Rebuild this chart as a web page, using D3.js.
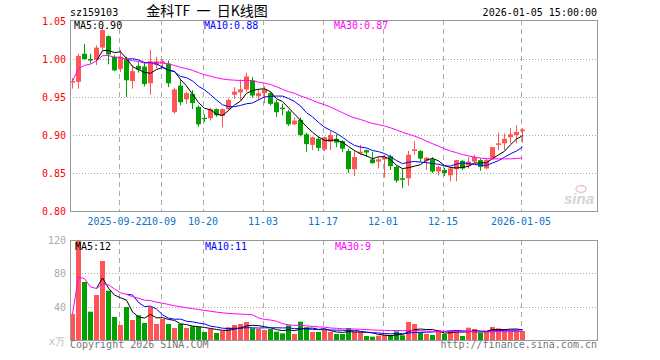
<!DOCTYPE html>
<html>
<head>
<meta charset="utf-8">
<script src="https://cdn.jsdelivr.net/npm/d3@7"></script>
<style>
  body { margin: 0; background: #fff; }
  text { font-family: "DejaVu Sans Mono", monospace; font-size: 10px; }
</style>
</head>
<body>
<svg id="chart" width="660" height="360"></svg>
<script>
// trading days shown on the chart
const dates = [
  "2025-09-10","2025-09-11","2025-09-12","2025-09-15","2025-09-16","2025-09-17","2025-09-18","2025-09-19",
  "2025-09-22","2025-09-23","2025-09-24","2025-09-25","2025-09-26","2025-09-29","2025-09-30",
  "2025-10-09","2025-10-10","2025-10-13","2025-10-14","2025-10-15","2025-10-16","2025-10-17",
  "2025-10-20","2025-10-21","2025-10-22","2025-10-23","2025-10-24","2025-10-27","2025-10-28","2025-10-29","2025-10-30","2025-10-31",
  "2025-11-03","2025-11-04","2025-11-05","2025-11-06","2025-11-07","2025-11-10","2025-11-11","2025-11-12","2025-11-13","2025-11-14",
  "2025-11-17","2025-11-18","2025-11-19","2025-11-20","2025-11-21","2025-11-24","2025-11-25","2025-11-26","2025-11-27","2025-11-28",
  "2025-12-01","2025-12-02","2025-12-03","2025-12-04","2025-12-05","2025-12-08","2025-12-09","2025-12-10","2025-12-11","2025-12-12",
  "2025-12-15","2025-12-16","2025-12-17","2025-12-18","2025-12-19","2025-12-22","2025-12-23","2025-12-24","2025-12-25","2025-12-26",
  "2025-12-29","2025-12-30","2025-12-31","2026-01-05"
];
const opens = [
  0.969,0.970,1.007,1.000,0.999,1.015,1.030,1.003,0.987,1.001,
  0.971,0.991,0.990,0.968,0.992,0.994,0.994,0.930,0.965,0.947,
  0.954,0.937,0.9225,0.922,0.934,0.925,0.934,0.953,0.956,0.960,
  0.972,0.951,0.955,0.955,0.943,0.936,0.931,0.914,0.920,0.901,
  0.887,0.895,0.881,0.891,0.895,0.892,0.879,0.855,0.876,0.880,
  0.868,0.865,0.868,0.872,0.858,0.843,0.843,0.879,0.879,0.866,
  0.868,0.852,0.854,0.847,0.855,0.866,0.860,0.865,0.867,0.856,
  0.869,0.887,0.889,0.897,0.900,0.905
];
const highs = [
  0.975,1.007,1.020,1.007,1.018,1.045,1.031,1.005,1.012,1.003,
  0.992,0.996,0.996,1.012,1.003,1.000,0.998,0.962,0.974,0.957,
  0.959,0.939,0.927,0.936,0.935,0.935,0.948,0.963,0.973,0.982,
  0.976,0.960,0.964,0.957,0.946,0.941,0.933,0.923,0.923,0.903,
  0.898,0.898,0.898,0.905,0.901,0.893,0.882,0.880,0.887,0.881,
  0.878,0.871,0.874,0.874,0.860,0.856,0.879,0.892,0.880,0.871,
  0.871,0.860,0.857,0.858,0.867,0.867,0.871,0.874,0.869,0.869,
  0.884,0.903,0.902,0.909,0.913,0.909
];
const lows = [
  0.961,0.961,0.999,0.994,0.992,1.012,0.993,0.984,0.983,0.950,
  0.961,0.982,0.964,0.953,0.988,0.988,0.963,0.928,0.939,0.941,
  0.934,0.911,0.917,0.919,0.924,0.910,0.933,0.947,0.946,0.957,
  0.949,0.946,0.942,0.939,0.924,0.926,0.912,0.913,0.898,0.878,
  0.880,0.879,0.879,0.880,0.884,0.878,0.850,0.846,0.874,0.871,
  0.862,0.856,0.844,0.854,0.837,0.830,0.833,0.874,0.865,0.854,
  0.850,0.847,0.846,0.839,0.839,0.854,0.856,0.863,0.853,0.855,
  0.868,0.880,0.880,0.889,0.889,0.890
];
const closes = [
  0.971,1.004,1.000,0.998,1.015,1.038,1.006,0.985,1.003,0.972,
  0.984,0.986,0.967,0.997,0.997,0.997,0.968,0.960,0.943,0.955,
  0.942,0.914,0.921,0.934,0.926,0.934,0.946,0.957,0.960,0.977,
  0.952,0.955,0.960,0.941,0.930,0.934,0.914,0.919,0.900,0.888,
  0.897,0.883,0.897,0.900,0.890,0.882,0.855,0.871,0.878,0.877,
  0.863,0.868,0.871,0.859,0.840,0.841,0.874,0.881,0.869,0.870,
  0.852,0.858,0.850,0.856,0.867,0.856,0.865,0.871,0.858,0.867,
  0.884,0.889,0.895,0.901,0.904,0.907
];
// volume, 万
const volumes = [
  31.2,120,69.6,34,54,94.8,59.2,27.6,18,39.6,
  24,29.6,20.4,39.6,19.2,25.2,19.2,14.4,19.2,14.4,
  16.4,15.6,9.6,13.2,8.4,11.2,15.2,18,19.2,21.6,
  14,13.2,12,13.2,10,8,17.6,7.2,22,15.2,
  9.6,9.6,12,9.6,7.2,7.2,14.4,10,9.6,4.8,
  4,5.2,6,5.6,10.4,5.6,21.6,19.2,9.2,7.2,
  6,12,7.2,11.2,12,4.8,14.8,13.2,8.8,10.8,
  15.6,14,13.2,11.6,11.6,10.8
];

const tickDates = ["2025-09-22","2025-10-09","2025-10-20","2025-11-03","2025-11-17","2025-12-01","2025-12-15","2026-01-05"];
const tickLabels = ["2025-09-22","10-09","10-20","11-03","11-17","12-01","12-15","2026-01-05"];
const priceTicks = [0.80, 0.85, 0.90, 0.95, 1.00, 1.05];
const volTicks = [40, 80, 120];
const priceLegend = ["MA5:0.90", "MA10:0.88", "MA30:0.87"];
const volLegend = ["MA5:12", "MA10:11", "MA30:9"];

const RED = "#ff5555", GREEN = "#00a000";
const maColors = ["#000000", "#0000ff", "#ff00ff"];

var svg = d3.select("#chart");
svg.append("rect").attr("width", 660).attr("height", 360).attr("fill", "#fff");

let left = 70, right = 597;
let pTop = 20, pBottom = 211;
let vTop = 240, vBottom = 340;

const x = d3.scaleLinear().domain([0, dates.length - 1]).range([72, 522]);
const yP = d3.scaleLinear().domain([0.80, 1.05]).range([211, 21]);
const yV = d3.scaleLinear().domain([0, 120]).range([vBottom, vTop]);

const candles = dates.map(function (d, i) {
  return { i: i, date: d, o: opens[i], h: highs[i], l: lows[i], c: closes[i], v: volumes[i] };
});

function movingAvg(arr, n, partial) {
  return arr.map(function (d, i) {
    if (i < n - 1 && !partial) return null;
    const s = arr.slice(Math.max(0, i - n + 1), i + 1);
    return d3.mean(s);
  });
}

// horizontal dotted grid
svg.selectAll(".pgrid")
  .data(priceTicks.filter(d => d > 0.80 && d < 1.05))
  .join("line")
  .attr("class", "pgrid")
  .attr("x1", left).attr("x2", right + 1)
  .attr("y1", d => Math.round(yP(d)) + 0.5).attr("y2", d => Math.round(yP(d)) + 0.5)
  .attr("stroke", "#aaa").attr("stroke-dasharray", "1,2");

svg.selectAll(".vgridh")
  .data(volTicks.filter(d => d < 120))
  .join("line")
  .attr("class", "vgridh")
  .attr("x1", left).attr("x2", right + 1)
  .attr("y1", d => Math.round(yV(d)) + 0.5).attr("y2", d => Math.round(yV(d)) + 0.5)
  .attr("stroke", "#aaa").attr("stroke-dasharray", "1,2");

// vertical dashed grid, both panels
const tickIdx = tickDates.map(d => dates.indexOf(d));
[[pTop, pBottom], [vTop, vBottom]].forEach(function (p) {
  svg.append("g").selectAll("line")
    .data(tickIdx)
    .join("line")
    .attr("x1", d => x(d) - 0.5).attr("x2", d => x(d) - 0.5)
    .attr("y1", p[0]).attr("y2", p[1])
    .attr("stroke", "#aaa").attr("stroke-dasharray", "5,4");
});

// candles
const cg = svg.append("g");
cg.selectAll(".wick")
  .data(candles)
  .join("line")
  .attr("class", "wick")
  .attr("x1", d => x(d.i) + 0.5).attr("x2", d => x(d.i) + 0.5)
  .attr("y1", d => yP(d.h)).attr("y2", d => yP(d.l))
  .attr("stroke", d => d.c >= d.o ? RED : GREEN);
cg.selectAll(".body")
  .data(candles)
  .join("rect")
  .attr("class", "body")
  .attr("x", d => x(d.i) - 2)
  .attr("width", 5)
  .attr("y", d => yP(Math.max(d.o, d.c)))
  .attr("height", d => Math.max(1, yP(Math.min(d.o, d.c)) - yP(Math.max(d.o, d.c))))
  .attr("fill", d => d.c >= d.o ? RED : GREEN);

// volume bars
svg.append("g").selectAll("rect")
  .data(candles)
  .join("rect")
  .attr("x", d => x(d.i) - 2)
  .attr("width", 5)
  .attr("y", d => yV(Math.min(d.v, 120)))
  .attr("height", d => vBottom - yV(Math.min(d.v, 120)))
  .attr("fill", d => d.c >= d.o ? RED : GREEN);

// moving averages
const maDefs = [[5, false], [10, false], [30, true]];
maDefs.forEach(function (m, k) {
  const pm = movingAvg(closes, m[0], m[1]);
  const vm = movingAvg(volumes, m[0], m[1]);
  const lp = d3.line().defined(d => d != null).x((d, i) => x(i) + 0.5).y(d => yP(d));
  const lv = d3.line().defined(d => d != null).x((d, i) => x(i) + 0.5).y(d => yV(d));
  svg.append("path").attr("d", lp(pm)).attr("fill", "none").attr("stroke", maColors[k]).attr("stroke-width", 1);
  svg.append("path").attr("d", lv(vm)).attr("fill", "none").attr("stroke", maColors[k]).attr("stroke-width", 1);
});

// frames
svg.append("rect").attr("x", left + 0.5).attr("y", pTop + 0.5)
  .attr("width", right - left).attr("height", pBottom - pTop)
  .attr("fill", "none").attr("stroke", "#999");
svg.append("rect").attr("x", left + 0.5).attr("y", vTop + 0.5)
  .attr("width", right - left).attr("height", vBottom - vTop)
  .attr("fill", "none").attr("stroke", "#999");

// axis labels
svg.selectAll(".plabel")
  .data(priceTicks)
  .join("text")
  .attr("class", "plabel")
  .attr("x", 66).attr("y", d => yP(d) + 4)
  .attr("text-anchor", "end").attr("fill", "#ff0000")
  .text(d => d.toFixed(2));

svg.selectAll(".vlabel")
  .data(volTicks)
  .join("text")
  .attr("class", "vlabel")
  .attr("x", 66).attr("y", d => yV(d) + 4)
  .attr("text-anchor", "end").attr("fill", "#aaa")
  .text(d => d);
svg.append("text").attr("x", 49).attr("y", 345).attr("fill", "#bbb").text("x万");

// first label ends where the second starts, as in the original
svg.selectAll(".xlabel")
  .data(tickIdx)
  .join("text")
  .attr("class", "xlabel")
  .attr("x", (d, i) => i == 0 ? x(d) - 2.5 : x(d) - 1).attr("y", 225)
  .attr("text-anchor", "middle").attr("fill", "#0a74c8")
  .text((d, i) => tickLabels[i]);

// header
svg.append("text").attr("x", 70).attr("y", 16).attr("fill", "#000").text("sz159103");
svg.append("text").attr("x", 597).attr("y", 16).attr("text-anchor", "end").attr("fill", "#000").text("2026-01-05 15:00:00");
svg.append("text").attr("x", 207).attr("y", 16).attr("text-anchor", "middle")
  .attr("xml:space", "preserve")
  .style("font-family", "'Noto Sans CJK SC', sans-serif").style("font-size", "14px")
  .attr("fill", "#000").text("金科TF  一  日K线图");

// legends
const legX = [74, 204, 334];
svg.selectAll(".pleg").data(priceLegend).join("text").attr("class", "pleg")
  .attr("x", (d, i) => legX[i]).attr("y", 29).attr("fill", (d, i) => maColors[i]).text(d => d);
svg.selectAll(".vleg").data(volLegend).join("text").attr("class", "vleg")
  .attr("x", (d, i) => legX[i] + 1).attr("y", 250).attr("fill", (d, i) => maColors[i]).text(d => d);

// footer
svg.append("text").attr("x", 70).attr("y", 348).attr("fill", "#777").text("Copyright 2026 SINA.COM");
svg.append("text").attr("x", 597).attr("y", 348).attr("text-anchor", "end").attr("fill", "#777").text("http://finance.sina.com.cn");

// sina watermark
svg.append("ellipse").attr("cx", 581).attr("cy", 189).attr("rx", 5).attr("ry", 3.5)
  .attr("fill", "none").attr("stroke", "#eec4c4").attr("stroke-width", 1.5);
svg.append("text").attr("x", 564).attr("y", 204)
  .style("font-family", "'Liberation Sans', sans-serif").style("font-size", "15px")
  .style("font-weight", "bold").style("font-style", "italic")
  .attr("fill", "#d4d4d4").text("sina");
</script>
</body>
</html>
